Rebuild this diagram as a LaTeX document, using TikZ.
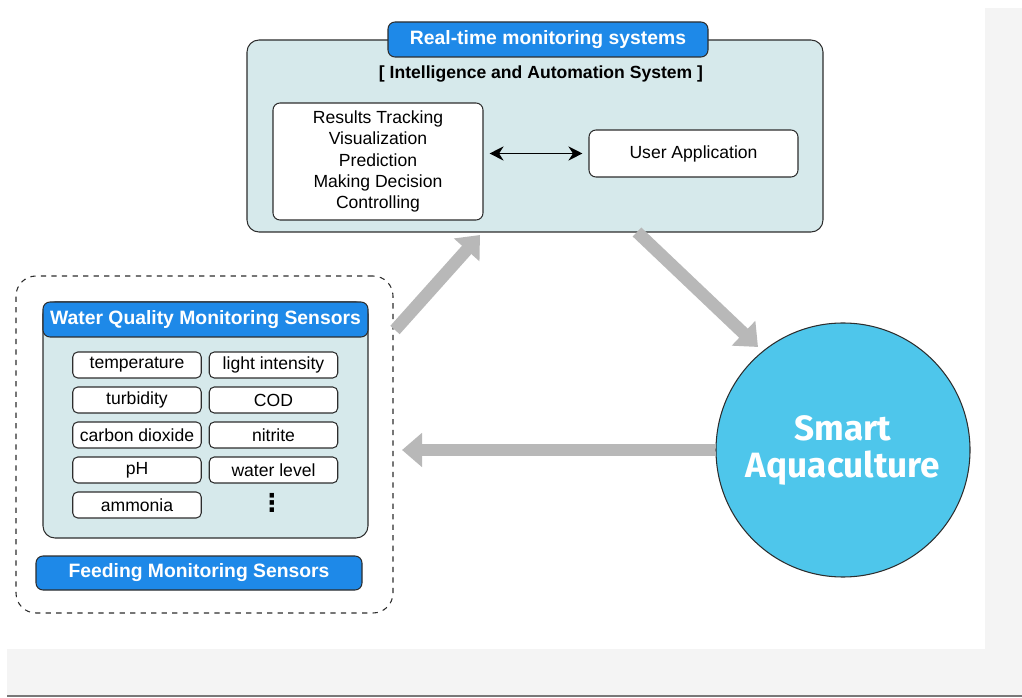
\documentclass[tikz,border=0pt]{standalone}
\usepackage{fontspec}
\setmainfont{Liberation Sans}
\newfontfamily\roundfont{Fira Sans}
\newfontfamily\dotsfont{DejaVu Sans}
\usetikzlibrary{arrows.meta}

\definecolor{tabblue}{RGB}{30,137,232}
\definecolor{panelfill}{RGB}{214,233,235}
\definecolor{aqua}{RGB}{78,198,235}
\definecolor{flowgray}{RGB}{184,184,184}
\definecolor{edge}{RGB}{45,45,45}
\definecolor{pagegray}{RGB}{244,244,244}
\definecolor{rulegray}{RGB}{120,120,120}

\tikzset{
  panel/.style={draw=edge, line width=0.6pt, fill=panelfill, rounded corners=0.24cm, inner sep=0pt},
  tab/.style={draw=edge, line width=0.6pt, fill=tabblue, rounded corners=0.14cm, inner sep=0pt,
    text=white, font=\fontsize{11}{13}\selectfont\bfseries},
  whitebox/.style={draw=edge, line width=0.6pt, fill=white, rounded corners=0.14cm, inner sep=0pt,
    align=center, font=\fontsize{10}{12.2}\selectfont},
  sensor/.style={draw=edge, line width=0.6pt, fill=white, rounded corners=0.1cm, inner sep=0pt,
    minimum width=2.57cm, minimum height=0.52cm, font=\fontsize{10}{12}\selectfont},
  flow/.style={draw=flowgray, line width=0.25cm, -{Triangle[width=0.66cm,length=0.4cm]}},
}

\begin{document}
\begin{tikzpicture}
\useasboundingbox (0,0) rectangle (20.44,13.94);
\fill[pagegray] (19.70,0.04) rectangle (20.44,13.78); % page margin
\fill[pagegray] (0.14,0.04) rectangle (20.44,0.96);
\fill[rulegray] (0.14,0) rectangle (20.44,0.04);

% monitoring system
\node[panel, minimum width=11.52cm, minimum height=3.84cm] at (10.70,11.22) (system) {};
\node[tab, minimum width=6.4cm, minimum height=0.7cm] at (10.96,13.15) (realtime) {Real-time monitoring systems};
\node[font=\fontsize{10}{12}\selectfont\bfseries] at (10.82,12.46) (intel) {[ Intelligence and Automation System ]};

\node[whitebox, minimum width=4.2cm, minimum height=2.34cm] at (7.56,10.71) (tasks)
  {Results Tracking\\Visualization\\Prediction\\Making Decision\\Controlling};
\node[whitebox, minimum width=4.18cm, minimum height=0.94cm] at (13.87,10.87) (userapp) {User Application};

\draw[{Stealth[length=8pt,width=8pt]}-{Stealth[length=8pt,width=8pt]}, line width=1pt, shorten <=0.12cm, shorten >=0.12cm]
  (tasks.east |- userapp.west) -- (userapp.west);

% sensors
\node[draw=edge, dashed, line width=0.6pt, rounded corners=0.4cm, minimum width=7.54cm, minimum height=6.74cm] at (4.09,5.05) (sensors) {};
\node[panel, minimum width=6.5cm, minimum height=4.72cm] at (4.11,5.54) (water) {};
\node[tab, minimum width=6.5cm, minimum height=0.7cm] at (4.11,7.55) (waterhead) {Water Quality Monitoring Sensors};

\node[sensor] at (2.74,6.64) (temp) {temperature};
\node[sensor] at (2.74,5.94) (turb) {turbidity};
\node[sensor] at (2.74,5.24) (carbon) {carbon dioxide};
\node[sensor] at (2.74,4.54) (ph) {pH};
\node[sensor] at (2.74,3.84) (ammonia) {ammonia};

\node[sensor] at (5.47,6.64) (light) {light intensity};
\node[sensor] at (5.47,5.94) (cod) {COD};
\node[sensor] at (5.47,5.24) (nitrite) {nitrite};
\node[sensor] at (5.47,4.54) (level) {water level};
\node[font=\dotsfont\bfseries\fontsize{14}{14}\selectfont] at (5.44,3.88) (more) {⋮};

\node[tab, minimum width=6.52cm, minimum height=0.68cm] at (3.98,2.48) (feeding) {Feeding Monitoring Sensors};

% smart aquaculture
\node[circle, draw=edge, line width=0.6pt, fill=aqua, minimum size=5.08cm, inner sep=0pt, text=white, align=center,
  font=\roundfont\bfseries\fontsize{20}{21}\selectfont] at (16.86,4.94) (aqua) {Smart\\Aquaculture};

% flows
\coordinate (upfrom) at (7.90,7.34);
\coordinate (upto) at (9.60,9.24);
\coordinate (downfrom) at (12.74,9.30);
\coordinate (downto) at (15.16,7.00);
\coordinate (backto) at (8.04,4.94);

\draw[flow] (upfrom) -- (upto);
\draw[flow] (downfrom) -- (downto);
\draw[flow] (aqua.west) -- (backto);

\end{tikzpicture}
\end{document}
